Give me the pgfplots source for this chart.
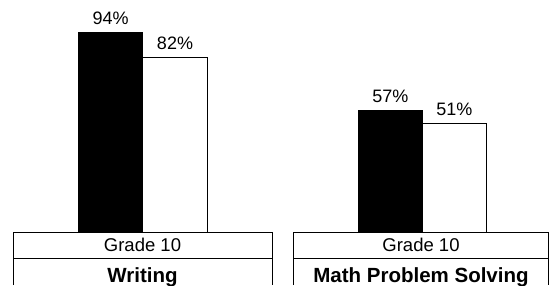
\documentclass[border=0pt]{standalone}
\usepackage{pgfplots}
\pgfplotsset{compat=1.18}
\usepackage{fontspec}
\setmainfont{Liberation Sans}
\begin{document}
\begin{tikzpicture}[x=1pt,y=1pt]
\useasboundingbox (0,0) rectangle (549,285);
\pgfplotsset{panel/.style={scale only axis, hide axis, ymin=0, ymax=109.1, height=232pt,
  ybar, bar shift=0pt, bar width=1, clip=false, point meta=y,
  nodes near coords={\pgfmathprintnumber{\pgfplotspointmeta}\%},
  every node near coord/.append style={font=\fontsize{18}{18}\selectfont, anchor=base, inner sep=0pt, yshift=8pt},
  /pgf/number format/assume math mode=true, anchor=south west}}
\begin{axis}[panel, at={(13pt,53pt)}, width=259pt, xmin=-1.512, xmax=2.504]
\addplot[fill=black, draw=black, line width=1pt] coordinates {(0,94)};
\addplot[fill=white, draw=black, line width=1pt] coordinates {(1,82)};
\end{axis}
\begin{axis}[panel, at={(293pt,53pt)}, width=255.5pt, xmin=-1.523, xmax=2.469]
\addplot[fill=black, draw=black, line width=1pt] coordinates {(0,57)};
\addplot[fill=white, draw=black, line width=1pt] coordinates {(1,51)};
\end{axis}
\draw[line width=1pt] (13,0) -- (13,53) -- (272,53) -- (272,0);
\draw[line width=1pt] (13,27) -- (272,27);
\draw[line width=1pt] (293,0) -- (293,53) -- (548.5,53) -- (548.5,0);
\draw[line width=1pt] (293,27) -- (548.5,27);
\node[font=\fontsize{18.5}{18.5}\selectfont, inner sep=0pt] at (142.5,40) {Grade 10};
\node[font=\fontsize{18.5}{18.5}\selectfont, inner sep=0pt] at (421,40) {Grade 10};
\node[font=\fontsize{20.5}{20.5}\selectfont\bfseries, inner sep=0pt, anchor=base] at (142.5,3) {Writing};
\node[font=\fontsize{20.5}{20.5}\selectfont\bfseries, inner sep=0pt, anchor=base] at (421,3) {Math Problem Solving};
\end{tikzpicture}
\end{document}
